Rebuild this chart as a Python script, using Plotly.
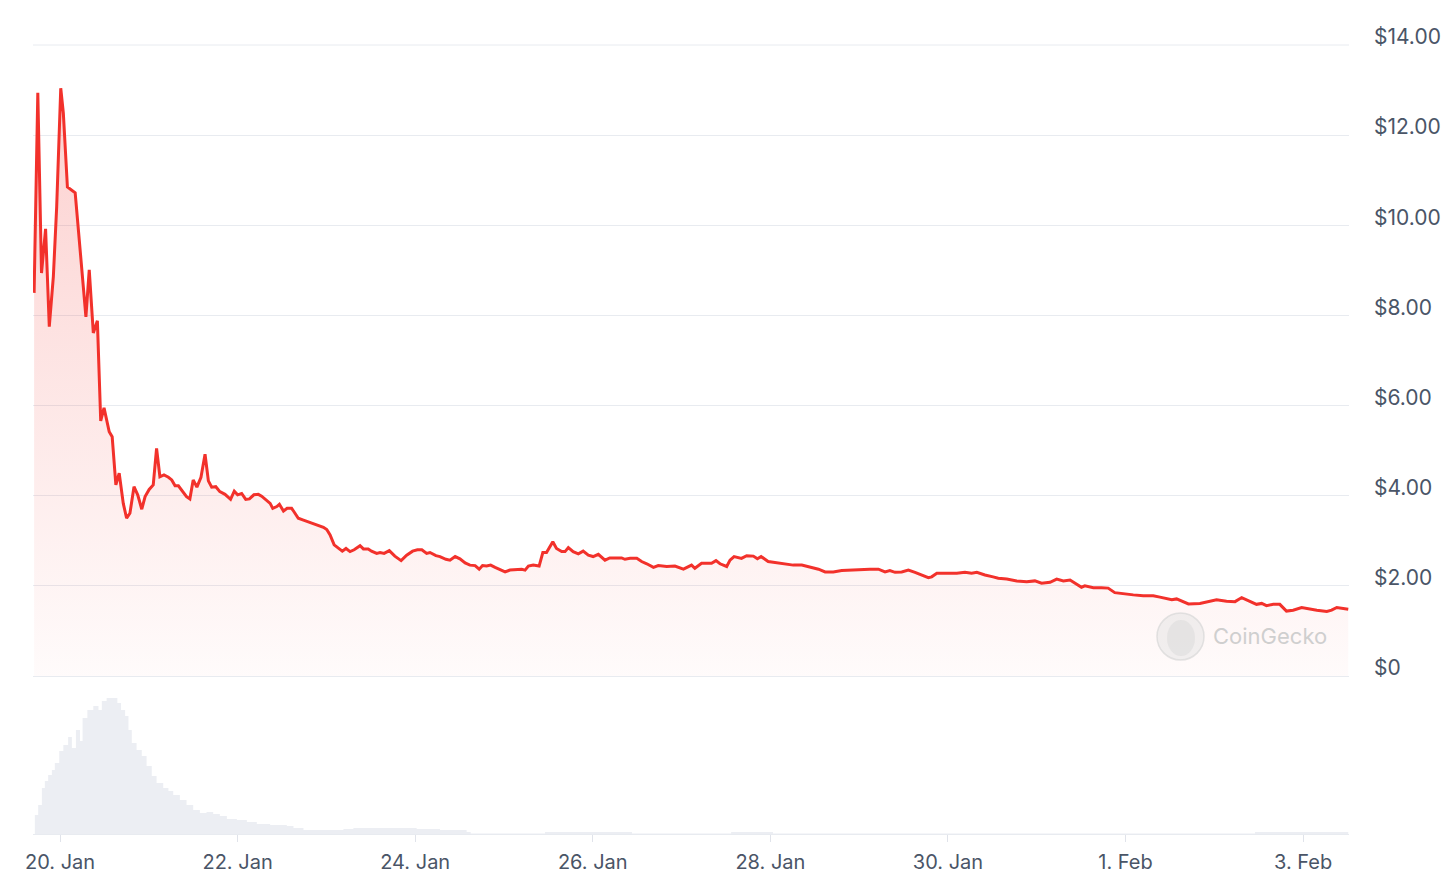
import pandas as pd
import plotly.graph_objects as go

BASE = pd.Timestamp("2025-01-20 00:00")

# Price: hours since 20 Jan 00:00 and USD price
price_hours = [
    -7.0, -6.0, -5.0, -3.9, -2.9, -1.8, -0.9, 0.2, 0.9, 2.0, 4.1, 5.4, 7.0, 7.9, 9.0, 10.1,
    11.0, 11.9, 12.8, 13.3, 14.1, 15.1, 16.0, 17.1, 18.0, 18.9, 20.0, 21.0, 22.1, 23.0,
    24.1, 25.2, 26.1, 27.0, 28.1, 29.3, 30.2, 31.1, 32.0, 33.2, 34.2, 35.1, 36.0, 37.0,
    38.1, 39.2, 40.1, 41.0, 42.1, 43.2, 44.6, 46.1, 47.1, 48.0, 49.1, 50.2, 51.2, 52.4,
    53.6, 54.5, 55.9, 56.8, 57.5, 58.6, 59.3, 60.4, 61.4, 62.6, 63.2, 64.4, 65.8, 67.1,
    68.5, 69.8, 71.2, 72.1, 73.0, 74.1, 75.2, 76.3, 77.3, 78.4, 79.5, 81.1, 82.0, 83.3,
    84.2, 85.6, 86.5, 87.6, 89.0, 90.5, 92.2, 93.7, 95.3, 96.6, 97.8, 99.1, 100.0, 101.6,
    102.7, 104.3, 105.4, 106.8, 108.1, 109.5, 110.8, 112.2, 113.3, 114.2, 115.3, 116.4,
    117.6, 118.9, 120.3, 121.6, 123.4, 124.8, 125.7, 126.6, 127.9, 129.5, 130.5, 131.5,
    133.2, 134.2, 135.6, 136.5, 137.4, 138.7, 140.1, 141.4, 142.8, 144.1, 145.5, 147.3,
    148.6, 150.5, 151.8, 152.7, 154.1, 155.9, 157.2, 158.6, 160.4, 161.7, 164.0, 166.2,
    168.5, 170.7, 171.6, 173.4, 176.1, 177.3, 178.4, 180.2, 181.1, 182.2, 184.2, 185.6,
    187.4, 188.5, 189.5, 191.4, 193.7, 196.4, 198.2, 200.5, 201.8, 203.6, 205.0, 206.8,
    209.0, 211.3, 214.0, 216.2, 218.9, 221.2, 223.0, 224.3, 225.7, 227.5, 229.3, 231.1,
    232.9, 234.7, 235.6, 237.0, 239.7, 242.4, 244.6, 246.4, 247.8, 250.0, 252.2, 253.6,
    255.9, 258.6, 261.3, 263.5, 265.3, 267.6, 269.4, 271.2, 273.0, 274.8, 276.1, 277.0,
    279.3, 281.5, 283.3, 285.1, 287.4, 290.1, 292.8, 295.5, 297.3, 299.1, 300.5, 301.8,
    303.6, 305.0, 308.1, 310.8, 312.6, 315.3, 317.6, 319.4, 321.2, 323.4, 324.8, 326.1,
    327.9, 329.7, 331.5, 333.3, 335.6, 337.4, 339.7, 342.4, 343.7, 345.1, 346.8, 348.2,
]
price_usd = [
    8.50, 12.94, 8.94, 9.92, 7.75, 8.86, 10.41, 13.04, 12.49, 10.85, 10.72, 9.45, 7.97, 9.01, 7.61, 7.88,
    5.66, 5.95, 5.61, 5.42, 5.31, 4.24, 4.50, 3.83, 3.50, 3.61, 4.20, 4.02, 3.70, 3.98,
    4.14, 4.24, 5.05, 4.42, 4.46, 4.41, 4.35, 4.22, 4.22, 4.09, 3.98, 3.93, 4.35, 4.19,
    4.41, 4.92, 4.33, 4.19, 4.20, 4.09, 4.03, 3.92, 4.10, 4.02, 4.05, 3.92, 3.93, 4.02,
    4.03, 3.99, 3.88, 3.83, 3.72, 3.76, 3.81, 3.66, 3.72, 3.72, 3.65, 3.50, 3.46, 3.42,
    3.39, 3.35, 3.30, 3.25, 3.13, 2.91, 2.83, 2.77, 2.83, 2.76, 2.80, 2.89, 2.82, 2.82,
    2.77, 2.72, 2.74, 2.72, 2.78, 2.66, 2.56, 2.68, 2.77, 2.80, 2.80, 2.72, 2.74, 2.67,
    2.65, 2.59, 2.57, 2.65, 2.60, 2.51, 2.46, 2.45, 2.37, 2.45, 2.44, 2.46,
    2.41, 2.37, 2.31, 2.35, 2.37, 2.37, 2.35, 2.44, 2.46, 2.44, 2.74, 2.74,
    2.98, 2.83, 2.76, 2.76, 2.85, 2.76, 2.71, 2.77, 2.68, 2.65, 2.70, 2.57,
    2.62, 2.62, 2.62, 2.59, 2.61, 2.61, 2.54, 2.49, 2.41, 2.45, 2.43, 2.44,
    2.37, 2.46, 2.39, 2.50, 2.50, 2.56, 2.49, 2.43, 2.57, 2.65, 2.61, 2.67,
    2.66, 2.60, 2.65, 2.54, 2.51, 2.49, 2.46, 2.46, 2.43, 2.40, 2.37, 2.31,
    2.31, 2.34, 2.35, 2.37, 2.37, 2.37, 2.31, 2.34, 2.30, 2.31, 2.35, 2.30,
    2.24, 2.18, 2.20, 2.28, 2.28, 2.28, 2.30, 2.28, 2.30, 2.24, 2.20, 2.17,
    2.15, 2.11, 2.09, 2.11, 2.06, 2.08, 2.15, 2.11, 2.13, 2.03, 1.97, 2.00,
    1.96, 1.96, 1.95, 1.85, 1.82, 1.80, 1.78, 1.78, 1.75, 1.72, 1.69, 1.71,
    1.65, 1.60, 1.61, 1.65, 1.69, 1.66, 1.65, 1.74, 1.67, 1.59, 1.61, 1.56,
    1.59, 1.59, 1.44, 1.46, 1.52, 1.49, 1.46, 1.43, 1.46, 1.52, 1.49, 1.48,
]

# Volume (USD millions): hours since 20 Jan 00:00
volume_hours = [
    -6.8, -5.9, -4.9, -4.1, -3.2, -2.2, -1.4, -0.2, 0.9, 2.2, 3.2, 4.3, 5.4, 6.1, 7.4, 9.0,
    10.4, 11.3, 12.6, 14.4, 15.5, 16.5, 17.6, 18.5, 19.4, 20.7, 22.1, 23.4, 24.8, 26.1,
    27.9, 29.3, 30.6, 32.4, 34.2, 36.0, 37.8, 39.6, 41.4, 43.2, 45.1, 47.8, 50.5, 53.2,
    56.8, 61.3, 63.1, 65.8, 76.6, 79.3, 96.4, 102.7, 109.9, 111.0, 131.1, 154.6, 181.4,
    192.7, 323.0, 348.2,
]
volume_musd = [
    190, 290, 460, 530, 590, 640, 710, 830, 890, 970, 860, 1040, 930, 1160, 1240, 1280,
    1240, 1330, 1360, 1360, 1310, 1240, 1180, 1040, 910, 840, 780, 680, 580, 510,
    460, 430, 390, 340, 290, 240, 210, 220, 200, 180, 150, 140, 120, 100,
    90, 80, 60, 40, 50, 60, 50, 40, 20, 6, 20, 6, 20,
    6, 20, 20,
]

price_ticks = [0, 2, 4, 6, 8, 10, 12, 14]
price_tick_labels = ["$0", "$2.00", "$4.00", "$6.00", "$8.00", "$10.00", "$12.00", "$14.00"]

price_times = [BASE + pd.Timedelta(hours=h) for h in price_hours]
volume_times = [BASE + pd.Timedelta(hours=h) for h in volume_hours]

FONT = "Inter, Roboto, sans-serif"
TEXT = "#4a5567"
GRID = "#e8ebf0"

# the page body adds an 8 px margin, so the figure is 8 px smaller in each direction
W, H = 1448, 875
ML, MT, MR, MB = 25, 37, 107, 49

fig = go.Figure()

fig.add_trace(go.Scatter(
    x=volume_times, y=volume_musd, mode="lines", line=dict(width=0, shape="hv"),
    fill="tozeroy", fillcolor="#eceef3", xaxis="x", yaxis="y2", hoverinfo="skip",
    showlegend=False,
))

fig.add_trace(go.Scatter(
    x=price_times, y=price_usd, mode="lines",
    line=dict(color="#f2312b", width=3),
    fill="tozeroy",
    fillgradient=dict(
        type="vertical", start=0, stop=14,
        colorscale=[[0, "rgba(242,49,43,0.02)"], [0.5, "rgba(242,49,43,0.13)"], [1, "rgba(242,49,43,0.24)"]],
    ),
    xaxis="x", yaxis="y", showlegend=False,
))

x_start = BASE + pd.Timedelta(hours=-7.3)
x_end = BASE + pd.Timedelta(hours=348.4)

plot_h = H - MT - MB
vol_dom_top = (834 - 676) / plot_h

fig.update_layout(
    width=W, height=H,
    margin=dict(l=ML, r=MR, t=MT, b=MB, autoexpand=False),
    paper_bgcolor="white", plot_bgcolor="white",
    font=dict(family=FONT, size=20, color=TEXT),
    xaxis=dict(
        type="date", range=[x_start, x_end], anchor="y2",
        tickmode="linear", tick0=BASE, dtick=2 * 86400000, tickformat="%-d. %b",
        showgrid=False, zeroline=False,
        showline=True, linecolor=GRID, linewidth=1,
        ticks="outside", ticklen=7, tickcolor="#e0e3ea",
        ticklabelstandoff=3,
        tickfont=dict(family=FONT, size=20, color=TEXT),
    ),
    yaxis=dict(
        domain=[vol_dom_top, 1], range=[0, 14], side="right",
        tickmode="array", tickvals=price_ticks, ticktext=price_tick_labels,
        showgrid=True, gridcolor=GRID, gridwidth=1,
        zeroline=True, zerolinecolor=GRID, zerolinewidth=1,
        ticks="", ticklabelstandoff=24, ticklabelshift=-8,
        tickfont=dict(family=FONT, size=21, color=TEXT),
    ),
    yaxis2=dict(
        domain=[0, vol_dom_top], range=[0, 1360 * 158 / 136],
        showgrid=False, zeroline=False, showticklabels=False, ticks="",
    ),
)

# CoinGecko watermark (pixel positions in the reference frame)
px_w = W - ML - MR
def px(xp):
    return (xp - 33) / px_w
def py(yp):
    return (834 - yp) / plot_h

fig.add_shape(type="line", xref="paper", yref="paper", x0=0, x1=1, y0=1, y1=1,
              line=dict(color=GRID, width=1))
fig.add_shape(type="circle", xref="paper", yref="paper",
              x0=px(1157), x1=px(1204), y0=py(660), y1=py(613),
              fillcolor="rgba(225,225,225,0.45)", line=dict(color="rgba(215,215,215,0.7)", width=1.5))
fig.add_shape(type="circle", xref="paper", yref="paper",
              x0=px(1167), x1=px(1195), y0=py(656), y1=py(620),
              fillcolor="rgba(215,215,215,0.45)", line=dict(width=0))
fig.add_annotation(text="CoinGecko", xref="paper", yref="paper", x=px(1211), y=py(636),
                   xanchor="left", yanchor="middle", showarrow=False,
                   font=dict(family=FONT, size=22, color="#cfcfcf"))

fig.write_html("out.html")
